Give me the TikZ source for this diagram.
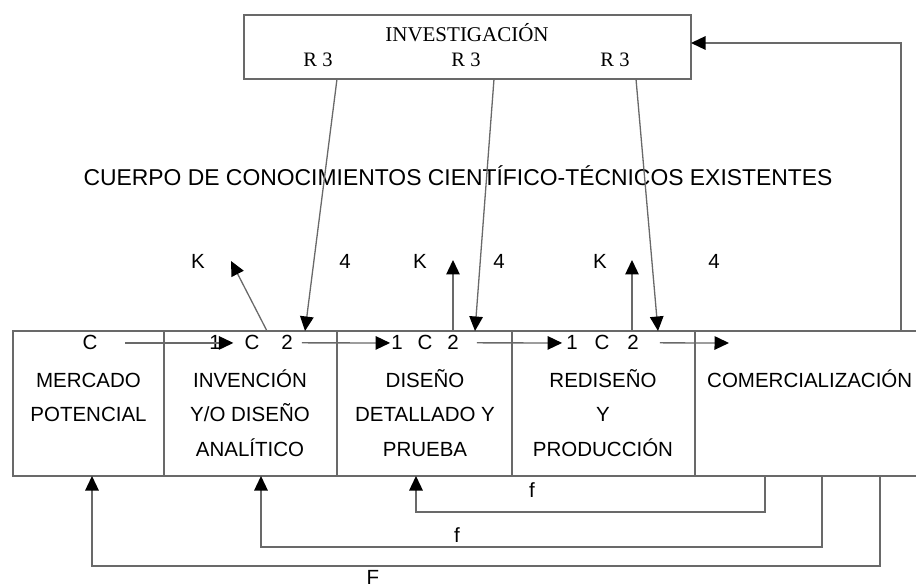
\documentclass[tikz,border=0pt]{standalone}
\usepackage{fontspec}
\setmainfont{Liberation Sans}
\newfontfamily\timesfont{Liberation Serif}
\usetikzlibrary{arrows.meta, positioning, calc}
\definecolor{linegray}{RGB}{105,105,105}

\begin{document}
\begin{tikzpicture}[x=1pt, y=-1pt,
  conn/.style={draw=linegray, line width=1.3pt},
  flow/.style={conn, -{Triangle[length=14.5pt, width=13.5pt, black]}},
  stage/.style={conn, minimum height=145pt, inner sep=0pt, outer sep=0pt, anchor=north west},
  lbl/.style={inner sep=0pt, font=\fontsize{20.5}{34.5}\selectfont},
  stagetext/.style={lbl, align=center, anchor=base},
  rlbl/.style={inner sep=0pt, anchor=base, font=\timesfont\fontsize{20.5}{24}\selectfont}
]
  \useasboundingbox (0,0) rectangle (916,585);

  % research box
  \node[conn, minimum width=447pt, minimum height=64pt, inner sep=0pt, outer sep=0pt, anchor=north west] (invest) at (244,15) {};
  \node[rlbl, font=\timesfont\fontsize{21}{24}\selectfont] (investtitle) at (467,42) {INVESTIGACIÓN};
  \node[rlbl] (r1) at (318,67) {R 3};
  \node[rlbl] (r2) at (466,67) {R 3};
  \node[rlbl] (r3) at (615,67) {R 3};

  \node[lbl, anchor=base] (cuerpo) at (458,186) {\fontsize{22.9}{26}\selectfont CUERPO DE CONOCIMIENTOS CIENTÍFICO-TÉCNICOS EXISTENTES};

  % stages
  \node[stage, minimum width=151pt] (mercado)   at (13,331)  {};
  \node[stage, minimum width=173pt] (invencion) at (164,331) {};
  \node[stage, minimum width=175pt] (diseno)    at (337,331) {};
  \node[stage, minimum width=183pt] (rediseno)  at (512,331) {};
  \node[stage, minimum width=225pt] (comercial) at (695,331) {};

  \node[stagetext] (mercadotext)   at (88.5,421.8) {MERCADO\\POTENCIAL};
  \node[stagetext] (invenciontext) at (250,456.3)  {INVENCIÓN\\Y/O DISEÑO\\ANALÍTICO};
  \node[stagetext] (disenotext)    at (425,456.3)  {DISEÑO\\DETALLADO Y\\PRUEBA};
  \node[stagetext] (redisenotext)  at (603,456.3)  {REDISEÑO\\Y\\PRODUCCIÓN};
  \node[lbl, anchor=base west] (comercialtext) at (707,387.3) {COMERCIALIZACIÓN};

  % C 1 2 row
  \node[lbl, anchor=base] (c1) at (90,350)  {C};
  \node[lbl, anchor=base] (i2) at (215,350) {1};
  \node[lbl, anchor=base] (c2) at (252,350) {C};
  \node[lbl, anchor=base] (o2) at (287,350) {2};
  \node[lbl, anchor=base] (i3) at (397,350) {1};
  \node[lbl, anchor=base] (c3) at (425,350) {C};
  \node[lbl, anchor=base] (o3) at (453,350) {2};
  \node[lbl, anchor=base] (i4) at (572,350) {1};
  \node[lbl, anchor=base] (c4) at (602,350) {C};
  \node[lbl, anchor=base] (o4) at (633,350) {2};
  \coordinate (sell) at (729,343);

  \draw[flow] ([xshift=35pt]c1.center) -- ([xshift=-11pt]c2.west |- c2.center);
  \draw[flow] ([xshift=9pt]o2.east |- o2.center) -- ([xshift=-1pt]i3.west |- i3.center);
  \draw[flow] ([xshift=18pt]o3.east |- o3.center) -- ([xshift=-4pt]i4.west |- i4.center);
  \draw[flow] ([xshift=21pt]o4.east |- o4.center) -- (sell);

  % K and 4
  \node[lbl, anchor=base] (k1) at (198,269) {K};
  \node[lbl, anchor=base] (k2) at (420,269) {K};
  \node[lbl, anchor=base] (k3) at (600,269) {K};
  \node[lbl, anchor=base] (n1) at (345,269) {4};
  \node[lbl, anchor=base] (n2) at (499,269) {4};
  \node[lbl, anchor=base] (n3) at (714,269) {4};

  \coordinate (ks1) at (267,331); \coordinate (ke1) at (231,261);
  \coordinate (ks2) at (453,331); \coordinate (ke2) at (453,260);
  \coordinate (ks3) at (632,331); \coordinate (ke3) at (632,260);
  \draw[flow] (ks1) -- (ke1);
  \draw[flow] (ks2) -- (ke2);
  \draw[flow] (ks3) -- (ke3);

  % research inputs
  \coordinate (rs1) at (337,79); \coordinate (re1) at (305,331);
  \coordinate (rs2) at (494,79); \coordinate (re2) at (475,331);
  \coordinate (rs3) at (636,79); \coordinate (re3) at (658,331);
  \draw[flow] (rs1) -- (re1);
  \draw[flow] (rs2) -- (re2);
  \draw[flow] (rs3) -- (re3);

  % feedback to research
  \coordinate (up) at (901,331);
  \coordinate (investin) at (691,43);
  \draw[flow] (up) |- (investin);

  % feedback loops
  \coordinate (fs1) at (765,476); \coordinate (fe1) at (416,476);
  \coordinate (fs2) at (822,476); \coordinate (fe2) at (261,476);
  \coordinate (fs3) at (880,476); \coordinate (fe3) at (92,476);
  \draw[flow] (fs1) -- ++(0,36) -| (fe1);
  \draw[flow] (fs2) -- ++(0,71) -| (fe2);
  \draw[flow] (fs3) -- ++(0,90) -| (fe3);
  \node[lbl, anchor=base] (f1) at (532,497) {f};
  \node[lbl, anchor=base] (f2) at (457,542) {f};
  \node[lbl, anchor=base] (bigf) at (373,584) {F};
\end{tikzpicture}
\end{document}
